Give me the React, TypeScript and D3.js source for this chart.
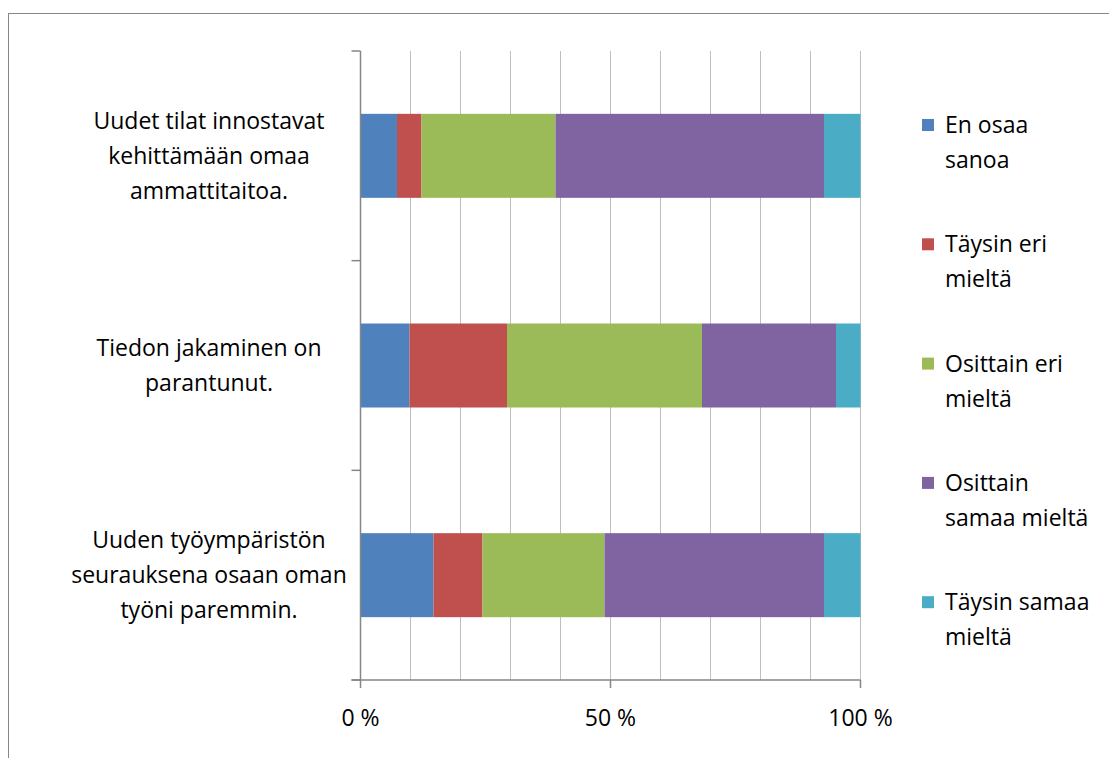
import React from "react";
import * as d3 from "d3";

const categories = [
  ["Uudet tilat innostavat", "kehittämään omaa", "ammattitaitoa."],
  ["Tiedon jakaminen on", "parantunut."],
  ["Uuden työympäristön", "seurauksena osaan oman", "työni paremmin."],
];
const seriesNames = ["En osaa sanoa", "Täysin eri mieltä", "Osittain eri mieltä", "Osittain samaa mieltä", "Täysin samaa mieltä"];
const legendLines = [
  ["En osaa", "sanoa"],
  ["Täysin eri", "mieltä"],
  ["Osittain eri", "mieltä"],
  ["Osittain", "samaa mieltä"],
  ["Täysin samaa", "mieltä"],
];
const colors = ["#4F81BD", "#C0504D", "#9BBB59", "#8064A2", "#4BACC6"];
// percentages per category (rows) per series (columns)
const enOsaa = [7.3, 9.8, 14.6];
const taysinEri = [4.9, 19.5, 9.8];
const osittainEri = [26.8, 39.0, 24.4];
const osittainSamaa = [53.7, 26.8, 43.9];
const taysinSamaa = [7.3, 4.9, 7.3];
const xTicks = [0, 50, 100];
const gridTicks = [10, 20, 30, 40, 50, 60, 70, 80, 90, 100];

export default function App() {
  const W = 1109, H = 758;
  const left = 360.5, right = 860.5, top = 51, bottom = 680;
  const x = d3.scaleLinear().domain([0, 100]).range([left, right]);
  const step = (bottom - top) / 3;
  const series = [enOsaa, taysinEri, osittainEri, osittainSamaa, taysinSamaa];
  const rows = categories.map((_, i) => {
    const o: any = { i };
    seriesNames.forEach((n, k) => (o[n] = series[k][i]));
    return o;
  });
  const stack = d3.stack<any>().keys(seriesNames).offset(d3.stackOffsetExpand)(rows);
  const font = "'Open Sans', sans-serif";
  const fs = 23;
  const lineH = 35;
  const barH = 84;
  return (
    <svg width={W} height={H} style={{ position: "absolute", left: 0, top: 0 }} fontFamily={font}>
      <rect x={8.5} y={13.5} width={W + 20} height={H + 20} fill="#fff" stroke="#868686" strokeWidth={1} />
      {gridTicks.map((t) => (
        <line key={t} x1={x(t)} x2={x(t)} y1={top} y2={bottom} stroke="#BFBFBF" strokeWidth={1} />
      ))}
      {stack.map((s, k) =>
        s.map((d, i) => {
          const cy = top + step * (i + 0.5);
          return (
            <rect
              key={k + "-" + i}
              x={x(d[0] * 100)}
              width={x(d[1] * 100) - x(d[0] * 100)}
              y={cy - barH / 2}
              height={barH}
              fill={colors[k]}
            />
          );
        })
      )}
      <line x1={left} x2={left} y1={top} y2={bottom} stroke="#868686" strokeWidth={1.5} />
      <line x1={left - 9} x2={right} y1={bottom} y2={bottom} stroke="#868686" strokeWidth={1.5} />
      {[0, 1, 2, 3].map((i) => (
        <line key={i} x1={left - 9} x2={left} y1={top + step * i} y2={top + step * i} stroke="#868686" strokeWidth={1.5} />
      ))}
      {xTicks.map((t) => (
        <g key={t}>
          <line x1={x(t)} x2={x(t)} y1={bottom} y2={bottom + 8} stroke="#868686" strokeWidth={1.5} />
          <text x={x(t)} y={bottom + 46} textAnchor="middle" fontSize={fs} fill="#000">
            {t + " %"}
          </text>
        </g>
      ))}
      {categories.map((lines, i) => {
        const cy = top + step * (i + 0.5);
        const y0 = cy - ((lines.length - 1) * lineH) / 2;
        return (
          <text key={i} textAnchor="middle" fontSize={fs} fill="#000">
            {lines.map((l, j) => (
              <tspan key={j} x={209} y={y0 + j * lineH + 8}>
                {l}
              </tspan>
            ))}
          </text>
        );
      })}
      {legendLines.map((lines, k) => {
        const ly = 125 + k * 119.3;
        return (
          <g key={k}>
            <rect x={922} y={ly - 6} width={12} height={12} fill={colors[k]} />
            <text fontSize={fs} fill="#000">
              {lines.map((l, j) => (
                <tspan key={j} x={945} y={ly + j * lineH + 8}>
                  {l}
                </tspan>
              ))}
            </text>
          </g>
        );
      })}
    </svg>
  );
}
